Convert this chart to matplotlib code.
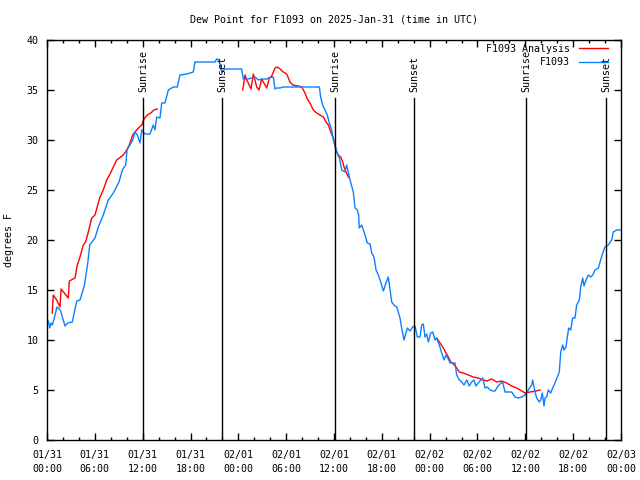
import matplotlib
matplotlib.use("Agg")
import matplotlib.pyplot as plt
from matplotlib.ticker import MultipleLocator

# hours since 01/31 00:00 UTC, dew point in degrees F
obs_hours = [0.16, 0.34, 0.50, 0.66, 0.92, 1.25, 1.67, 2.26, 2.60, 3.17, 3.73, 4.14, 4.68,
             5.11, 5.36, 6.02, 6.44, 7.06, 7.69, 8.32, 9.03, 9.45, 9.87, 10.04, 10.75,
             11.04, 11.33, 11.67, 11.88, 12.29, 12.92, 13.33, 13.55, 13.76, 14.17, 14.39,
             14.80, 15.22, 15.84, 16.34, 16.68, 17.52, 18.35, 18.56, 21.07, 21.29, 21.58,
             21.91, 22.33, 24.42, 24.62, 25.25, 25.68, 26.09, 26.51, 26.93, 27.56, 27.76,
             28.39, 28.60, 28.81, 29.23, 29.64, 34.16, 34.33, 34.58, 34.87, 35.16, 35.41,
             35.71, 35.91, 36.13, 36.34, 36.67, 36.97, 37.38, 37.59, 38.01, 38.42, 38.64,
             38.92, 39.10, 39.17, 39.48, 39.89, 40.18, 40.52, 40.73, 41.02, 41.27, 41.56,
             41.86, 42.19, 42.52, 42.81, 43.03, 43.24, 43.53, 43.87, 44.28, 44.49, 44.78,
             45.20, 45.53, 45.87, 46.16, 46.45, 46.79, 47.00, 47.20, 47.42, 47.63, 47.83,
             48.13, 48.38, 48.67, 48.88, 49.21, 49.51, 49.80, 50.05, 50.34, 50.55, 51.18,
             51.39, 51.72, 52.02, 52.31, 52.65, 52.97, 53.27, 53.56, 53.81, 54.10, 54.32,
             54.65, 54.94, 55.23, 55.57, 55.91, 56.20, 56.49, 56.82, 57.16, 57.45, 58.29,
             58.70, 59.12, 59.55, 59.96, 60.17, 60.50, 60.80, 60.92, 61.21, 61.43, 61.75,
             61.93, 62.13, 62.34, 62.47, 62.68, 62.88, 63.18, 63.43, 63.72, 64.01, 64.26,
             64.44, 64.69, 64.85, 65.10, 65.27, 65.44, 65.69, 65.94, 66.23, 66.44, 66.77,
             66.95, 67.20, 67.36, 67.61, 67.90, 68.20, 68.45, 68.74, 69.15, 69.37, 69.71,
             69.99, 70.41, 70.83, 71.03, 71.46, 71.88]
obs_dewpt = [11.9, 11.2, 11.7, 11.5, 12.2, 13.3, 13.0, 11.4, 11.7, 11.8, 13.9, 14.0, 15.4,
             17.7, 19.5, 20.2, 21.3, 22.5, 24.0, 24.7, 25.8, 27.0, 27.5, 29.0, 30.0,
             30.8, 30.5, 29.7, 31.0, 30.6, 30.6, 31.5, 31.0, 32.3, 32.2, 33.7,
             33.7, 35.0, 35.3, 35.3, 36.5, 36.6, 36.8, 37.8, 37.8, 38.1, 38.0,
             36.8, 37.1, 37.1, 36.1, 36.1, 36.2, 36.3, 36.0, 36.1, 36.1, 36.2,
             36.3, 35.1, 35.2, 35.2, 35.3, 35.3, 34.3, 33.5, 33.0, 32.5, 31.7,
             31.0, 30.0, 29.5, 28.8, 28.2, 27.0, 26.8, 27.5, 26.0, 24.8, 23.2,
             23.0, 22.5, 21.2, 21.5, 20.5, 19.7, 19.6, 18.7, 18.3, 17.0, 16.5,
             15.8, 14.9, 15.7, 16.3, 15.0, 13.8, 13.5, 13.3, 12.2, 11.2, 10.0,
             11.2, 10.9, 11.3, 11.4, 10.3, 10.3, 11.5, 11.6, 10.3, 10.6, 9.8,
             10.7, 10.8, 10.0, 10.2, 9.5, 8.7, 8.0, 8.5, 8.1, 7.7, 7.7,
             6.5, 6.0, 5.8, 5.5, 6.0, 5.4, 5.8, 6.0, 5.4, 5.7, 5.9,
             6.2, 5.2, 5.3, 5.0, 4.9, 4.9, 5.3, 5.6, 5.8, 4.8, 4.8,
             4.3, 4.2, 4.3, 4.5, 4.7, 5.2, 5.5, 6.0, 4.8, 4.2, 3.8,
             4.0, 4.7, 3.4, 4.2, 4.3, 5.0, 4.7, 5.2, 5.7, 6.3, 6.8,
             8.8, 9.5, 9.0, 9.3, 10.3, 11.2, 11.0, 12.2, 12.2, 13.5, 14.0,
             15.3, 16.2, 15.4, 16.0, 16.5, 16.3, 16.5, 17.0, 17.2, 17.8, 18.7,
             19.3, 19.5, 20.0, 20.8, 21.0, 21.0]

# analysis comes in three separate pieces
ana1_hours = [0.66, 0.79, 1.22, 1.63, 1.76, 2.17, 2.67, 2.80, 3.51, 3.80, 4.14, 4.55, 4.85,
              5.18, 5.61, 6.02, 6.36, 6.65, 7.06, 7.49, 7.90, 8.32, 8.74, 9.57, 10.00,
              10.32, 10.75, 11.33, 11.88, 12.17, 12.58, 13.01, 13.42, 13.84]
ana1_dewpt = [12.7, 14.5, 14.0, 13.3, 15.1, 14.7, 14.2, 15.9, 16.2, 17.5, 18.3, 19.5, 19.8,
              20.8, 22.2, 22.5, 23.5, 24.3, 25.0, 26.0, 26.6, 27.3, 28.0, 28.5, 29.0,
              29.5, 30.5, 31.1, 31.5, 32.1, 32.5, 32.7, 33.0, 33.1]
ana2_hours = [24.55, 24.84, 25.05, 25.25, 25.59, 25.88, 26.09, 26.30, 26.59, 26.93, 27.13,
              27.56, 27.89, 28.19, 28.60, 28.89, 29.23, 29.64, 30.07, 30.48, 30.82, 31.52,
              31.95, 32.36, 32.65, 32.99, 33.40, 33.83, 34.24, 34.66, 35.00, 35.29, 35.59,
              35.91, 36.13, 36.25, 36.54, 36.84, 37.09, 37.26, 37.51, 37.80, 37.92]
ana2_dewpt = [35.0, 36.5, 36.0, 35.7, 35.1, 36.6, 36.0, 35.3, 35.0, 36.1, 35.8,
              35.2, 36.2, 36.4, 37.2, 37.3, 37.1, 36.8, 36.6, 35.8, 35.5, 35.4,
              35.3, 34.7, 34.1, 33.7, 33.0, 32.7, 32.5, 32.3, 31.8, 31.5, 30.8,
              30.2, 29.4, 29.0, 28.5, 28.3, 27.8, 27.3, 26.8, 26.3, 26.2]
ana3_hours = [48.88, 49.30, 49.71, 50.05, 50.34, 50.64, 50.97, 51.30, 51.72, 52.22, 52.85,
              53.47, 54.10, 54.73, 55.16, 55.78, 56.41, 57.04, 57.66, 58.29, 58.92, 59.55,
              59.96, 60.59, 61.34, 61.84]
ana3_dewpt = [10.2, 9.7, 9.2, 8.7, 8.3, 7.8, 7.6, 7.3, 6.8, 6.7, 6.5,
              6.3, 6.2, 6.0, 5.9, 6.1, 5.8, 5.9, 5.7, 5.4, 5.2, 4.9,
              4.7, 4.8, 4.9, 5.0]

sunrise_hours = [12.08, 36.12, 60.12]
sunset_hours = [22.0, 46.05, 70.15]

tick_labels = ["01/31\n00:00", "01/31\n06:00", "01/31\n12:00", "01/31\n18:00",
               "02/01\n00:00", "02/01\n06:00", "02/01\n12:00", "02/01\n18:00",
               "02/02\n00:00", "02/02\n06:00", "02/02\n12:00", "02/02\n18:00",
               "02/03\n00:00"]

font = "DejaVu Sans Mono"
fs = 7.2
red = "#ff0000"
blue = "#0a80ff"

fig = plt.figure(figsize=(6.4, 4.8), dpi=100)
ax = fig.add_axes([47 / 640, 40 / 480, 574 / 640, 400 / 480])

ax.plot(ana1_hours, ana1_dewpt, color=red, lw=1, label="F1093 Analysis")
ax.plot(ana2_hours, ana2_dewpt, color=red, lw=1)
ax.plot(ana3_hours, ana3_dewpt, color=red, lw=1)
ax.plot(obs_hours, obs_dewpt, color=blue, lw=1, label="F1093")

# sun events: line below a rotated label
for h in sunrise_hours:
    ax.plot([h, h], [0, 34.2], color="black", lw=1)
    ax.text(h, 34.8, "Sunrise", rotation=90, ha="center", va="bottom",
            family=font, fontsize=fs)
for h in sunset_hours:
    ax.plot([h, h], [0, 34.2], color="black", lw=1)
    ax.text(h, 34.8, "Sunset", rotation=90, ha="center", va="bottom",
            family=font, fontsize=fs)

ax.set_xlim(0, 72)
ax.set_ylim(0, 40)
ax.xaxis.set_major_locator(MultipleLocator(6))
ax.xaxis.set_minor_locator(MultipleLocator(2))
ax.yaxis.set_major_locator(MultipleLocator(5))
ax.set_xticks(range(0, 73, 6))
ax.set_xticklabels(tick_labels, linespacing=1.55)
ax.tick_params(which="both", direction="in", top=True, right=True, width=1,
               labelsize=fs)
ax.tick_params(axis="x", pad=7)
ax.tick_params(axis="y", pad=6)
ax.tick_params(which="major", length=5)
ax.tick_params(which="minor", length=2.5)
for lab in ax.get_xticklabels() + ax.get_yticklabels():
    lab.set_family(font)
for s in ax.spines.values():
    s.set_linewidth(1)

ax.set_ylabel("degrees F", family=font, fontsize=fs, labelpad=9)
ax.set_title("Dew Point for F1093 on 2025-Jan-31 (time in UTC)",
             family=font, fontsize=fs, pad=12.5)

leg = ax.legend(loc="upper right", bbox_to_anchor=(0.99, 1.008), frameon=False,
                markerfirst=False, handlelength=2.9, handletextpad=0.9,
                labelspacing=0.35, borderaxespad=0.3,
                prop={"family": font, "size": fs})

fig.savefig("out.png", dpi=100)
